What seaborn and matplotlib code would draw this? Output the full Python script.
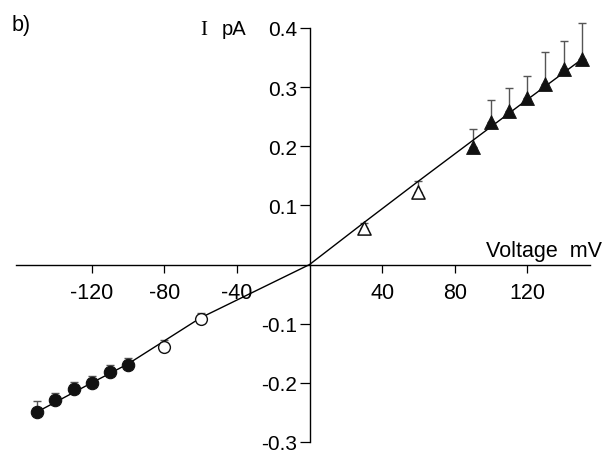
import numpy as np
import pandas as pd
import matplotlib
matplotlib.use("Agg")
import matplotlib.pyplot as plt
import seaborn as sns

# ---- data ----
filled_circle_v = [-150, -140, -130, -120, -110, -100]
filled_circle_i = [-0.249, -0.229, -0.210, -0.200, -0.181, -0.170]
filled_circle_err = [0.019, 0.012, 0.012, 0.012, 0.012, 0.012]

open_circle_v = [-80, -60]
open_circle_i = [-0.139, -0.0915]
open_circle_err = [0.011, 0.010]

open_tri_v = [30, 60]
open_tri_i = [0.062, 0.123]
open_tri_err = [0.008, 0.019]

filled_tri_v = [90, 100, 110, 120, 130, 140, 150]
filled_tri_i = [0.199, 0.241, 0.260, 0.281, 0.306, 0.331, 0.348]
filled_tri_err = [0.031, 0.037, 0.038, 0.038, 0.054, 0.047, 0.061]

fit_v = [-150, -120, -100, -80, -60, -30, 0, 30, 60, 90, 120, 150]
fit_i = [-0.249, -0.200, -0.168, -0.129, -0.090, -0.045, 0.0, 0.071, 0.141, 0.210, 0.279, 0.347]

x_ticks = [-120, -80, -40, 40, 80, 120]
y_ticks = [-0.3, -0.2, -0.1, 0.1, 0.2, 0.3, 0.4]

sns.set_theme(style="white")
plt.rcParams['font.family'] = ['Liberation Sans', 'DejaVu Sans']

W, H = 609, 456
fig = plt.figure(figsize=(W / 100, H / 100), dpi=100)
ax_left, ax_right = 16, 590
ax_top, ax_bot = 29, 443
ax = fig.add_axes([ax_left / W, (H - ax_bot) / H, (ax_right - ax_left) / W, (ax_bot - ax_top) / H])

scale = 1.815
zero_px = 309.5
ax.set_xlim((ax_left - zero_px) / scale, (ax_right - zero_px) / scale)
ax.set_ylim(-0.3, 0.4)

# fitted curve
sns.lineplot(x=fit_v, y=fit_i, color='black', linewidth=1.0, ax=ax, zorder=2, sort=False)

# error bars (upward only)
groups = [
    (filled_circle_v, filled_circle_i, filled_circle_err),
    (open_circle_v, open_circle_i, open_circle_err),
    (open_tri_v, open_tri_i, open_tri_err),
    (filled_tri_v, filled_tri_i, filled_tri_err),
]
for v, i, e in groups:
    ax.errorbar(v, i, yerr=[np.zeros(len(e)), e], fmt='none', ecolor='#555555',
                elinewidth=1.0, capsize=3.2, capthick=1.0, zorder=1, clip_on=False)

# markers
sns.scatterplot(x=filled_circle_v, y=filled_circle_i, marker='o', s=80, color='#111111',
                edgecolor='#111111', linewidth=0.8, ax=ax, zorder=3, clip_on=False)
sns.scatterplot(x=open_circle_v, y=open_circle_i, marker='o', s=72, facecolor='white',
                edgecolor='#111111', linewidth=1.0, ax=ax, zorder=3, clip_on=False)
sns.scatterplot(x=open_tri_v, y=open_tri_i, marker='^', s=90, facecolor='white',
                edgecolor='#111111', linewidth=1.1, ax=ax, zorder=3, clip_on=False)
sns.scatterplot(x=filled_tri_v, y=filled_tri_i, marker='^', s=100, color='#111111',
                edgecolor='#111111', linewidth=0.6, ax=ax, zorder=3, clip_on=False)

# axes styling
for s in ['top', 'right']:
    ax.spines[s].set_visible(False)
ax.spines['left'].set_position(('data', 0))
ax.spines['bottom'].set_position(('data', 0))
for s in ['left', 'bottom']:
    ax.spines[s].set_color('black')
    ax.spines[s].set_linewidth(1.0)
ax.spines['left'].set_bounds(-0.3, 0.4)

ax.set_xticks(x_ticks)
ax.set_xticklabels([str(t) for t in x_ticks])
ax.set_yticks(y_ticks)
ax.set_yticklabels([f"{t:.1f}" for t in y_ticks])
ax.tick_params(axis='x', direction='out', length=6, width=0.9, pad=6.5, labelsize=15.5,
               colors='black', bottom=True)
ax.tick_params(axis='y', direction='out', length=7.2, width=0.9, pad=1.5, labelsize=15,
               colors='black', left=True)
ax.set_xlabel('')
ax.set_ylabel('')
ax.grid(False)
ax.patch.set_alpha(0)

# texts
fig.text(602 / W, 1 - 257 / H, 'Voltage  mV', ha='right', va='baseline', fontsize=15.5,
         color='black')
fig.text(200 / W, 1 - 35 / H, 'I', ha='left', va='baseline', fontsize=15,
         family=['Liberation Serif', 'DejaVu Serif'], color='black')
fig.text(222 / W, 1 - 35 / H, 'pA', ha='left', va='baseline', fontsize=14.5, color='black')
fig.text(12 / W, 1 - 31 / H, 'b)', ha='left', va='baseline', fontsize=15.5, color='black')

fig.savefig('out.png', dpi=100)
